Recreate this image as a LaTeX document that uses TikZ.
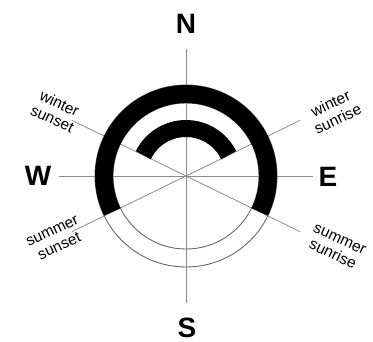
\documentclass[tikz,border=0pt]{standalone}
\usepackage{fontspec}
\setmainfont{Liberation Sans}
\begin{document}
\begin{tikzpicture}[x=1pt,y=1pt,
  ray/.style={draw=black!45, line width=0.8pt},
  thin/.style={draw=black!60, line width=0.9pt},
  band/.style={draw=black, line width=18pt, line cap=butt},
  cardinal/.style={font=\fontsize{28}{28}\selectfont\bfseries, inner sep=0pt},
  season/.style={font=\fontsize{15.5}{17}\selectfont, align=center, inner sep=0pt}]
\useasboundingbox (0,0) rectangle (373,-342);
\coordinate (C) at (186,-176);
% rays
\foreach \a/\n in {0/e,90/n,180/w,270/s,26/wr,154/ws,206/ss,334/sr}{
  \coordinate (\n) at ([shift={(\a:127)}]C);
  \draw[ray] (C) -- (\n);
}
% thin circles
\draw[thin] (C) circle[radius=73];
\draw[thin] (C) circle[radius=91];
% thick summer band
\draw[band] ([shift={(-26:82)}]C) arc[start angle=-26, end angle=206, radius=82];
% thick winter band
\draw[band, line width=17pt] ([shift={(26:47.5)}]C) arc[start angle=26, end angle=154, radius=47.5];
% labels
\node[cardinal] (N) at (186,-24) {N};
\node[cardinal] (S) at (187,-328) {S};
\node[cardinal] (W) at (38,-176) {W};
\node[cardinal] (E) at (328,-177) {E};
\node[season, rotate=-25] (lws) at (56,-111) {winter\\sunset};
\node[season, rotate=25] (lwr) at (334,-111) {winter\\sunrise};
\node[season, rotate=25] (lss) at (56,-239) {summer\\sunset};
\node[season, rotate=-25] (lsr) at (336,-247) {summer\\sunrise};
\end{tikzpicture}
\end{document}
